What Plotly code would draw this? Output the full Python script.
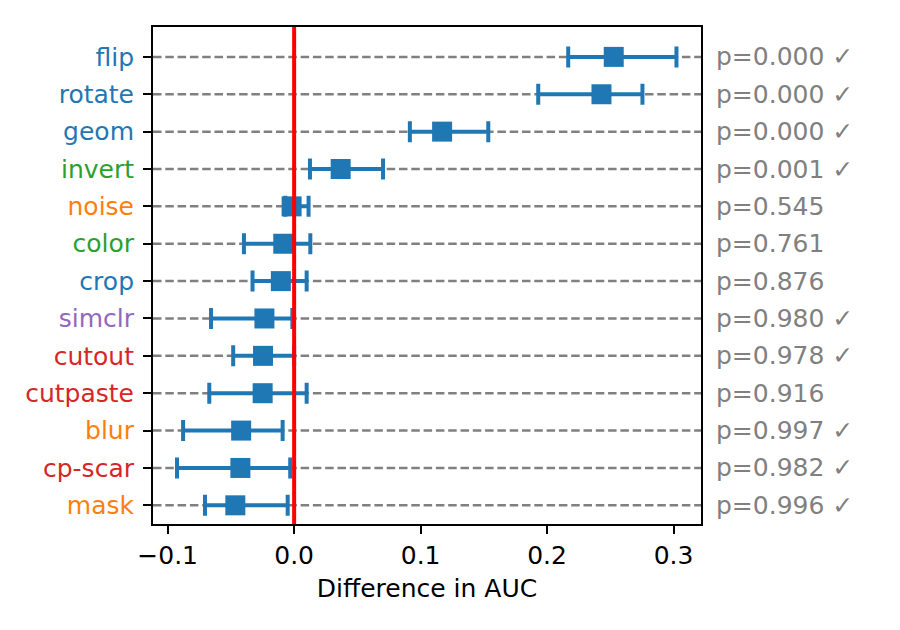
import plotly.graph_objects as go

# Data (top-to-bottom order as displayed)
categories = ["flip", "rotate", "geom", "invert", "noise", "color", "crop",
              "simclr", "cutout", "cutpaste", "blur", "cp-scar", "mask"]
diff_mean = [0.2527, 0.2430, 0.1170, 0.0368, -0.0020, -0.0086, -0.0105,
             -0.0235, -0.0246, -0.0249, -0.0419, -0.0425, -0.0465]
ci_low = [0.2167, 0.1930, 0.0915, 0.0125, -0.0070, -0.0397, -0.0329,
          -0.0657, -0.0482, -0.0671, -0.0878, -0.0926, -0.0705]
ci_high = [0.3023, 0.2754, 0.1535, 0.0703, 0.0114, 0.0128, 0.0099,
           -0.0014, 0.0000, 0.0099, -0.0091, -0.0031, -0.0051]
p_values = [0.000, 0.000, 0.000, 0.001, 0.545, 0.761, 0.876,
            0.980, 0.978, 0.916, 0.997, 0.982, 0.996]
significant = [True, True, True, True, False, False, False,
               True, True, False, True, True, True]
label_colors = ["#1f77b4", "#1f77b4", "#1f77b4", "#2ca02c", "#ff7f0e", "#2ca02c", "#1f77b4",
                "#9467bd", "#d62728", "#d62728", "#ff7f0e", "#d62728", "#ff7f0e"]
x_ticks = [-0.1, 0.0, 0.1, 0.2, 0.3]
x_ticklabels = ["\u22120.1", "0.0", "0.1", "0.2", "0.3"]

n = len(categories)
ypos = list(range(n - 1, -1, -1))
err_plus = [h - m for h, m in zip(ci_high, diff_mean)]
err_minus = [m - l for m, l in zip(diff_mean, ci_low)]

FONT = "DejaVu Sans"
FS = 25
BLUE = "#1f77b4"

fig = go.Figure()

# dashed horizontal guide lines across the full axes width
for y in ypos:
    fig.add_shape(type="line", xref="paper", yref="y", x0=0, x1=1, y0=y, y1=y,
                  line=dict(color="#808080", width=2.5, dash="8.5px,3.8px"), layer="below")

fig.add_trace(go.Scatter(
    x=diff_mean, y=ypos, mode="markers",
    marker=dict(symbol="square", size=20, color=BLUE, line=dict(width=0)),
    error_x=dict(type="data", symmetric=False, array=err_plus, arrayminus=err_minus,
                 color=BLUE, thickness=4, width=10.5),
    showlegend=False, hoverinfo="skip",
))

# zero reference line
fig.add_shape(type="line", xref="x", yref="paper", x0=0, x1=0, y0=0, y1=1,
              line=dict(color="#ff0000", width=4), layer="above")

# p-value annotations
for y, p, s in zip(ypos, p_values, significant):
    txt = f"p={p:.3f}" + (" \u2713" if s else "")
    fig.add_annotation(x=1, xref="paper", y=y, yref="y", text=txt, showarrow=False,
                       xanchor="left", yanchor="middle", xshift=13,
                       font=dict(family=FONT, size=FS, color="#808080"))

ticktext = [f'<span style="color:{c}">{cat}</span>' for cat, c in zip(categories, label_colors)]

fig.update_layout(
    width=900, height=630,
    margin=dict(l=145, r=207, t=19, b=114),
    paper_bgcolor="white", plot_bgcolor="white",
    font=dict(family=FONT, size=FS, color="black"),
    xaxis=dict(range=[-0.1116, 0.3217], tickvals=x_ticks, ticktext=x_ticklabels,
               ticks="outside", ticklen=8, tickwidth=2, tickcolor="black",
               showline=True, linecolor="black", linewidth=2, mirror=True,
               showgrid=False, zeroline=False,
               title=dict(text="Difference in AUC", font=dict(size=FS), standoff=10)),
    yaxis=dict(range=[-0.5, 12.8], tickvals=ypos, ticktext=ticktext,
               ticks="outside", ticklen=8, tickwidth=2, tickcolor="black",
               ticklabelstandoff=4,
               showline=True, linecolor="black", linewidth=2, mirror=True,
               showgrid=False, zeroline=False),
)

fig.write_html("out.html")
